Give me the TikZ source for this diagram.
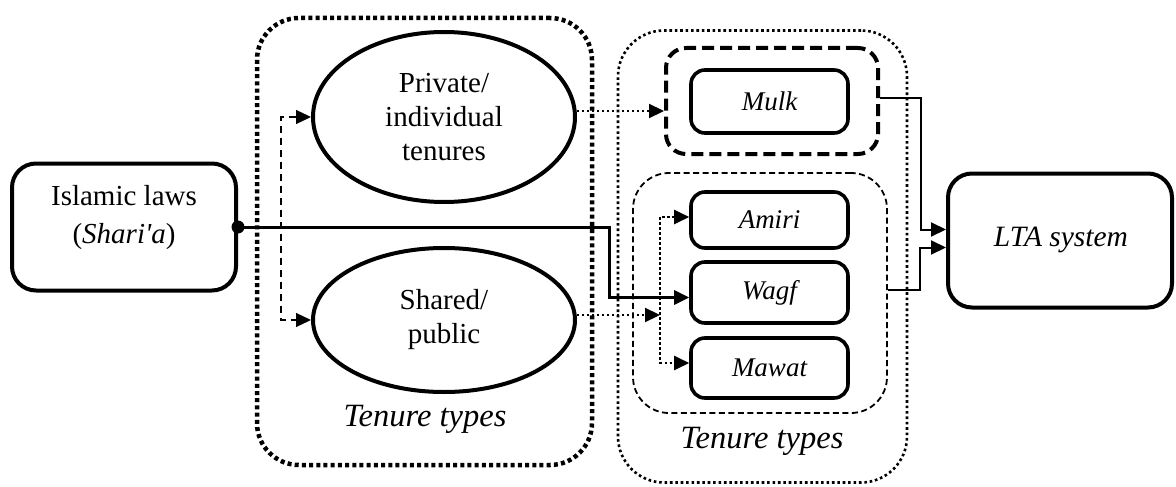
\documentclass[tikz,border=0pt]{standalone}
\usepackage{fontspec}
\newfontfamily\dfont{Liberation Serif}
\usetikzlibrary{arrows.meta,shapes.geometric,calc}
\tikzset{
  box/.style={draw, line width=3.6pt, rounded corners=14pt, inner sep=0pt},
  bigbox/.style={draw, line width=4pt, rounded corners=24pt, inner sep=0pt},
  oval/.style={draw, ellipse, line width=4pt, inner sep=0pt, align=center,
    font=\dfont\fontsize{29}{34}\selectfont},
  txt/.style={font=\dfont\fontsize{29}{38}\selectfont, align=center},
  itxt/.style={font=\dfont\itshape\fontsize{27}{30}\selectfont},
  grplabel/.style={font=\dfont\itshape\fontsize{32.5}{36}\selectfont},
  heavydots/.style={draw, line width=4.5pt, dash pattern=on 4pt off 3.2pt, rounded corners=42pt, inner sep=0pt},
  lightdots/.style={draw, line width=2.6pt, dash pattern=on 2.6pt off 2.8pt, rounded corners=46pt, inner sep=0pt},
  heavydash/.style={draw, line width=4pt, dash pattern=on 12pt off 6pt, rounded corners=20pt, inner sep=0pt},
  lightdash/.style={draw, line width=1.8pt, dash pattern=on 6pt off 3.5pt, rounded corners=36pt, inner sep=0pt},
  tip/.tip={Triangle[length=15pt, width=14pt]},
  dotcon/.style={line width=2.2pt, dash pattern=on 2.4pt off 2.6pt},
  dashcon/.style={line width=1.3pt, dash pattern=on 7pt off 5pt},
  solidcon/.style={line width=3pt},
  thincon/.style={line width=2pt},
}
\begin{document}
\begin{tikzpicture}[x=1pt, y=-1pt]
\useasboundingbox (0,0) rectangle (1176,487);

% group containers
\node[heavydots, minimum width=335pt, minimum height=447pt] (leftgrp) at (424.5,241.5) {};
\node[lightdots, minimum width=289pt, minimum height=452pt] (rightgrp) at (762.5,256.5) {};
\node[heavydash, minimum width=212pt, minimum height=106pt] (mulkgrp) at (772,101) {};
\node[lightdash, minimum width=254pt, minimum height=240pt] (lowgrp) at (760,293) {};

\node[grplabel] (leftlbl) at (425,419) {Tenure types};
\node[grplabel] (rightlbl) at (762,441) {Tenure types};

% source and target
\node[bigbox, minimum width=224pt, minimum height=127pt] (isl) at (124,227) {};
\node[txt] (isltext) at (124,218) {Islamic laws\\(\textit{Shari'a})};
\node[bigbox, minimum width=224pt, minimum height=134pt] (lta) at (1060,240.5) {};
\node[font=\dfont\itshape\fontsize{29.5}{34}\selectfont] (ltatext) at (1061,240) {LTA system};

% tenure ellipses
\node[oval, minimum width=262pt, minimum height=170pt] (priv) at (444,117) {Private/\\individual\\tenures};
\node[oval, minimum width=262pt, minimum height=144pt] (shared) at (444,320) {Shared/\\public};

% tenure type boxes
\node[box, itxt, minimum width=157pt, minimum height=63pt] (mulk) at (769.5,101.5) {Mulk};
\node[box, itxt, minimum width=157pt, minimum height=56pt] (amiri) at (769.5,220) {Amiri};
\node[box, itxt, minimum width=157pt, minimum height=61pt] (wagf) at (769.5,292.5) {Wagf};
\node[box, itxt, minimum width=157pt, minimum height=60pt] (mawat) at (769.5,368) {Mawat};

\coordinate (hub) at (660,315);

% connectors
\draw[dashcon, {tip}-{tip}] (priv.west) -- ++(-30,0) |- (shared.west);
\draw[dotcon, -{tip}] ([yshift=6pt]priv.east) -- ([yshift=6pt]priv.east -| mulkgrp.west);
\draw[dotcon, -{tip}] ([yshift=5pt]shared.east) -- (hub);
\draw[dotcon, {tip}-{tip}] ([yshift=3pt]amiri.west) -- ++(-29,0) |- ([yshift=5pt]mawat.west);
\draw[solidcon, -{tip}] (isl.east) -- ++(371,0) |- ([yshift=-5pt]wagf.west);
\fill (isl.east) circle (6.5pt);
\draw[thincon, -{tip}] ([yshift=3pt]mulkgrp.east) -- ++(41,0) |- ([yshift=11pt]lta.west);
\draw[thincon, -{tip}] ([yshift=3pt]lowgrp.east) -- ++(32,0) |- ([yshift=-7pt]lta.west);
\end{tikzpicture}
\end{document}
